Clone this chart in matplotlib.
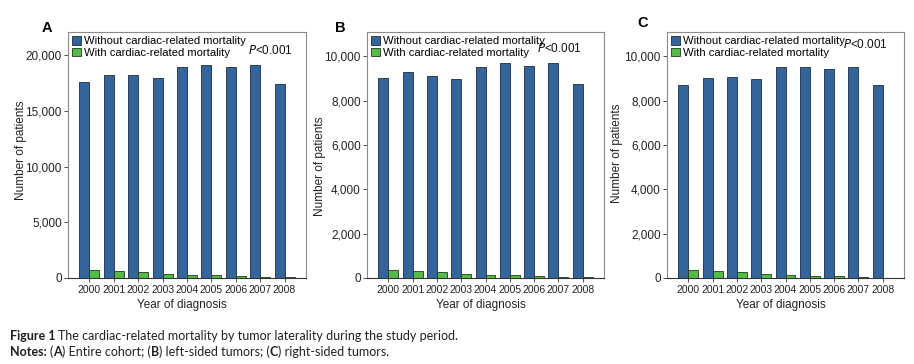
import matplotlib
matplotlib.use("Agg")
import matplotlib.pyplot as plt
import numpy as np
from matplotlib.patches import Patch

years = ["2000", "2001", "2002", "2003", "2004", "2005", "2006", "2007", "2008"]

a_without = [17650, 18250, 18200, 17950, 19000, 19150, 19000, 19150, 17450]
a_with = [720, 630, 510, 390, 300, 240, 210, 120, 50]

b_without = [9010, 9300, 9130, 8970, 9500, 9700, 9550, 9700, 8760]
b_with = [360, 330, 250, 190, 150, 130, 90, 60, 30]

c_without = [8700, 9040, 9090, 9000, 9500, 9500, 9450, 9500, 8700]
c_with = [360, 300, 270, 180, 150, 100, 100, 60, 20]

legend_labels = ["Without cardiac-related mortality", "With cardiac-related mortality"]
panel_letters = ["A", "B", "C"]

BLUE = "#33659a"
GREEN = "#55bb48"
FONT = ["Liberation Sans", "DejaVu Sans"]
plt.rcParams["font.family"] = FONT

fig = plt.figure(figsize=(9.14, 3.64), dpi=100)
W, H = 914, 364

def fx(px):
    return px / W

def fy(py):
    return 1 - py / H

panels = [
    dict(left=68, right=306, without=a_without, with_=a_with, ylim=22100,
         ticks=np.arange(0, 20001, 5000), letter=(47, 28), ylab=(21, 150),
         p=(248, 50)),
    dict(left=367, right=604, without=b_without, with_=b_with, ylim=11100,
         ticks=np.arange(0, 10001, 2000), letter=(340, 28), ylab=(320, 166),
         p=(537, 48)),
    dict(left=667, right=904, without=c_without, with_=c_with, ylim=11100,
         ticks=np.arange(0, 10001, 2000), letter=(643, 23), ylab=(617, 153),
         p=(843, 45)),
]

top_px, bot_px = 32, 278
x = np.arange(len(years))
w = 0.41

for i, p in enumerate(panels):
    ax = fig.add_axes([fx(p["left"]), fy(bot_px), fx(p["right"] - p["left"]),
                       (bot_px - top_px) / H])
    ax.bar(x - w / 2, p["without"], width=w, color=BLUE, edgecolor="#1a2a4a",
           linewidth=0.6)
    ax.bar(x + w / 2, p["with_"], width=w, color=GREEN, edgecolor="#1f3a1a",
           linewidth=0.6)
    ax.set_xlim(-0.88, 8.88)
    ax.set_ylim(0, p["ylim"])
    ax.set_yticks(p["ticks"])
    ax.set_yticklabels([f"{int(t):,}" for t in p["ticks"]], fontsize=8.5,
                       color="#222222")
    ax.set_xticks(x)
    ax.set_xticklabels(years, fontsize=7.5, color="#222222")
    ax.tick_params(axis="y", length=3, width=0.6, pad=1.5, color="#333333")
    ax.tick_params(axis="x", length=3, width=0.6, pad=2, color="#333333")
    for s in ["top", "right", "left"]:
        ax.spines[s].set_color("#8a8a8a")
        ax.spines[s].set_linewidth(0.8)
    ax.spines["bottom"].set_color("#333333")
    ax.spines["bottom"].set_linewidth(0.8)

    handles = [Patch(facecolor=BLUE, edgecolor="#1a2a4a", linewidth=0.6),
               Patch(facecolor=GREEN, edgecolor="#1f3a1a", linewidth=0.6)]
    ax.legend(handles, legend_labels, loc="upper left",
              bbox_to_anchor=(-0.005, 1.005), frameon=False, fontsize=8.1,
              handlelength=0.75, handleheight=0.75, handletextpad=0.25,
              labelspacing=0.12, borderpad=0.3, borderaxespad=0.2)

    fig.text(fx(p["p"][0]), fy(p["p"][1]), r"$\it{P}$<0.001", fontsize=8.5,
             ha="left", va="center", color="#111111")
    fig.text(fx(p["letter"][0]), fy(p["letter"][1]), panel_letters[i],
             fontsize=10.5, fontweight="bold", ha="center", va="center")
    fig.text(fx(p["ylab"][0]), fy(p["ylab"][1]), "Number of patients", rotation=90,
             fontsize=8.5, ha="center", va="center", color="#222222")
    fig.text(fx((p["left"] + p["right"]) / 2 - 5), fy(305), "Year of diagnosis",
             fontsize=8.5, ha="center", va="center", color="#222222")

# caption
CAP = ["Lato", "DejaVu Sans"]
cap_color = "#231f20"
fig.canvas.draw()
renderer = fig.canvas.get_renderer()

def runs(parts, px, py):
    xcur = fx(px)
    for txt, bold in parts:
        t = fig.text(xcur, fy(py), txt, fontsize=9.0, family=CAP,
                     fontweight="bold" if bold else "normal", color=cap_color,
                     ha="left", va="center")
        bb = t.get_window_extent(renderer=renderer)
        xcur += bb.width / fig.bbox.width

runs([("Figure 1 ", True),
      ("The cardiac-related mortality by tumor laterality during the study period.", False)],
     10, 336)
runs([("Notes: ", True), ("(", False), ("A", True), (") Entire cohort; (", False),
      ("B", True), (") left-sided tumors; (", False), ("C", True),
      (") right-sided tumors.", False)], 10, 352)

fig.savefig("out.png", dpi=100)
